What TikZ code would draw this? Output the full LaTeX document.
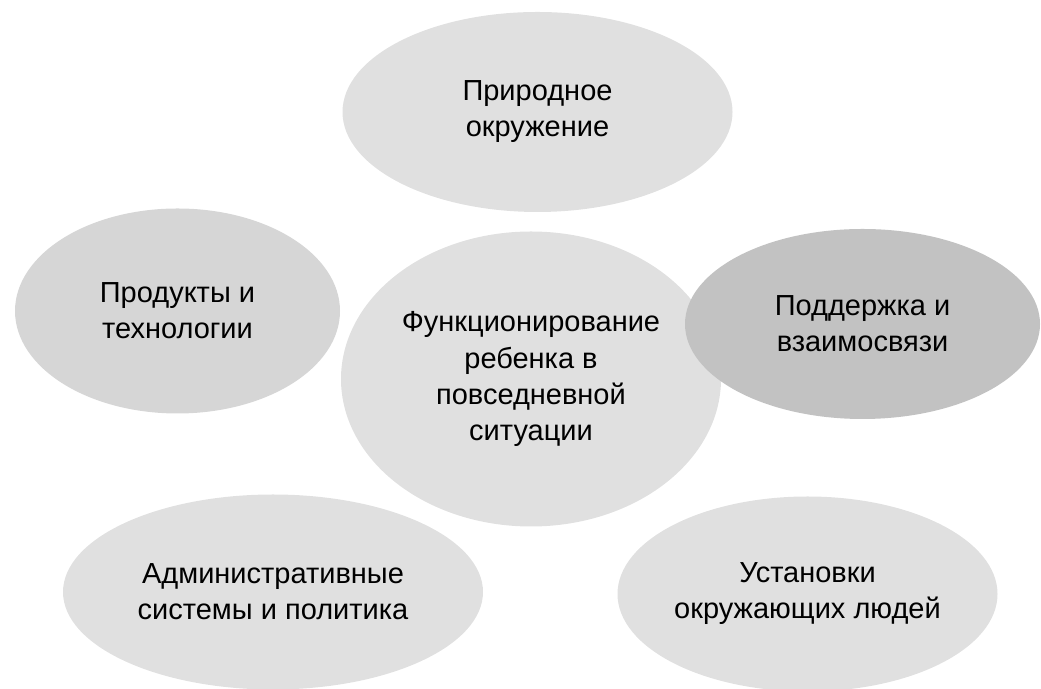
\documentclass[tikz,border=0pt]{standalone}
\usepackage{fontspec}
\setmainfont{Liberation Sans}
\usepackage{xcolor}
\usepackage{tikz}
\usetikzlibrary{
	shapes.geometric
}

\tikzset{
	factor/.style={ellipse,fill=black!12,align=center,inner sep=0pt,
		font=\fontsize{16.5}{20.5}\selectfont},
	factor-dark/.style={factor,fill=black!24}
}

\begin{document}
\begin{tikzpicture}
		\useasboundingbox (0, 0) rectangle (20.82, 13.78);

		\node[factor,minimum width=7.6cm,minimum height=5.9cm] at (10.62, 6.2) (child)
			{Функционирование \\ ребенка в \\ повседневной \\ ситуации};
		\node[factor,minimum width=7.8cm,minimum height=4cm] at (10.75, 11.54) (nature)
			{Природное \\ окружение};
		\node[factor,fill=black!16,minimum width=6.5cm,minimum height=4.1cm] at (3.55, 7.56) (products)
			{Продукты и \\ технологии};
		\node[factor-dark,minimum width=7.1cm,minimum height=3.8cm] at (17.25, 7.3) (support)
			{Поддержка и \\ взаимосвязи};
		\node[factor,minimum width=8.4cm,minimum height=3.9cm] at (5.46, 1.94) (policy)
			{Административные \\ системы и политика};
		\node[factor,minimum width=7.6cm,minimum height=3.9cm] at (16.15, 1.9) (attitudes)
			{Установки \\ окружающих людей};
	\end{tikzpicture}
\end{document}
